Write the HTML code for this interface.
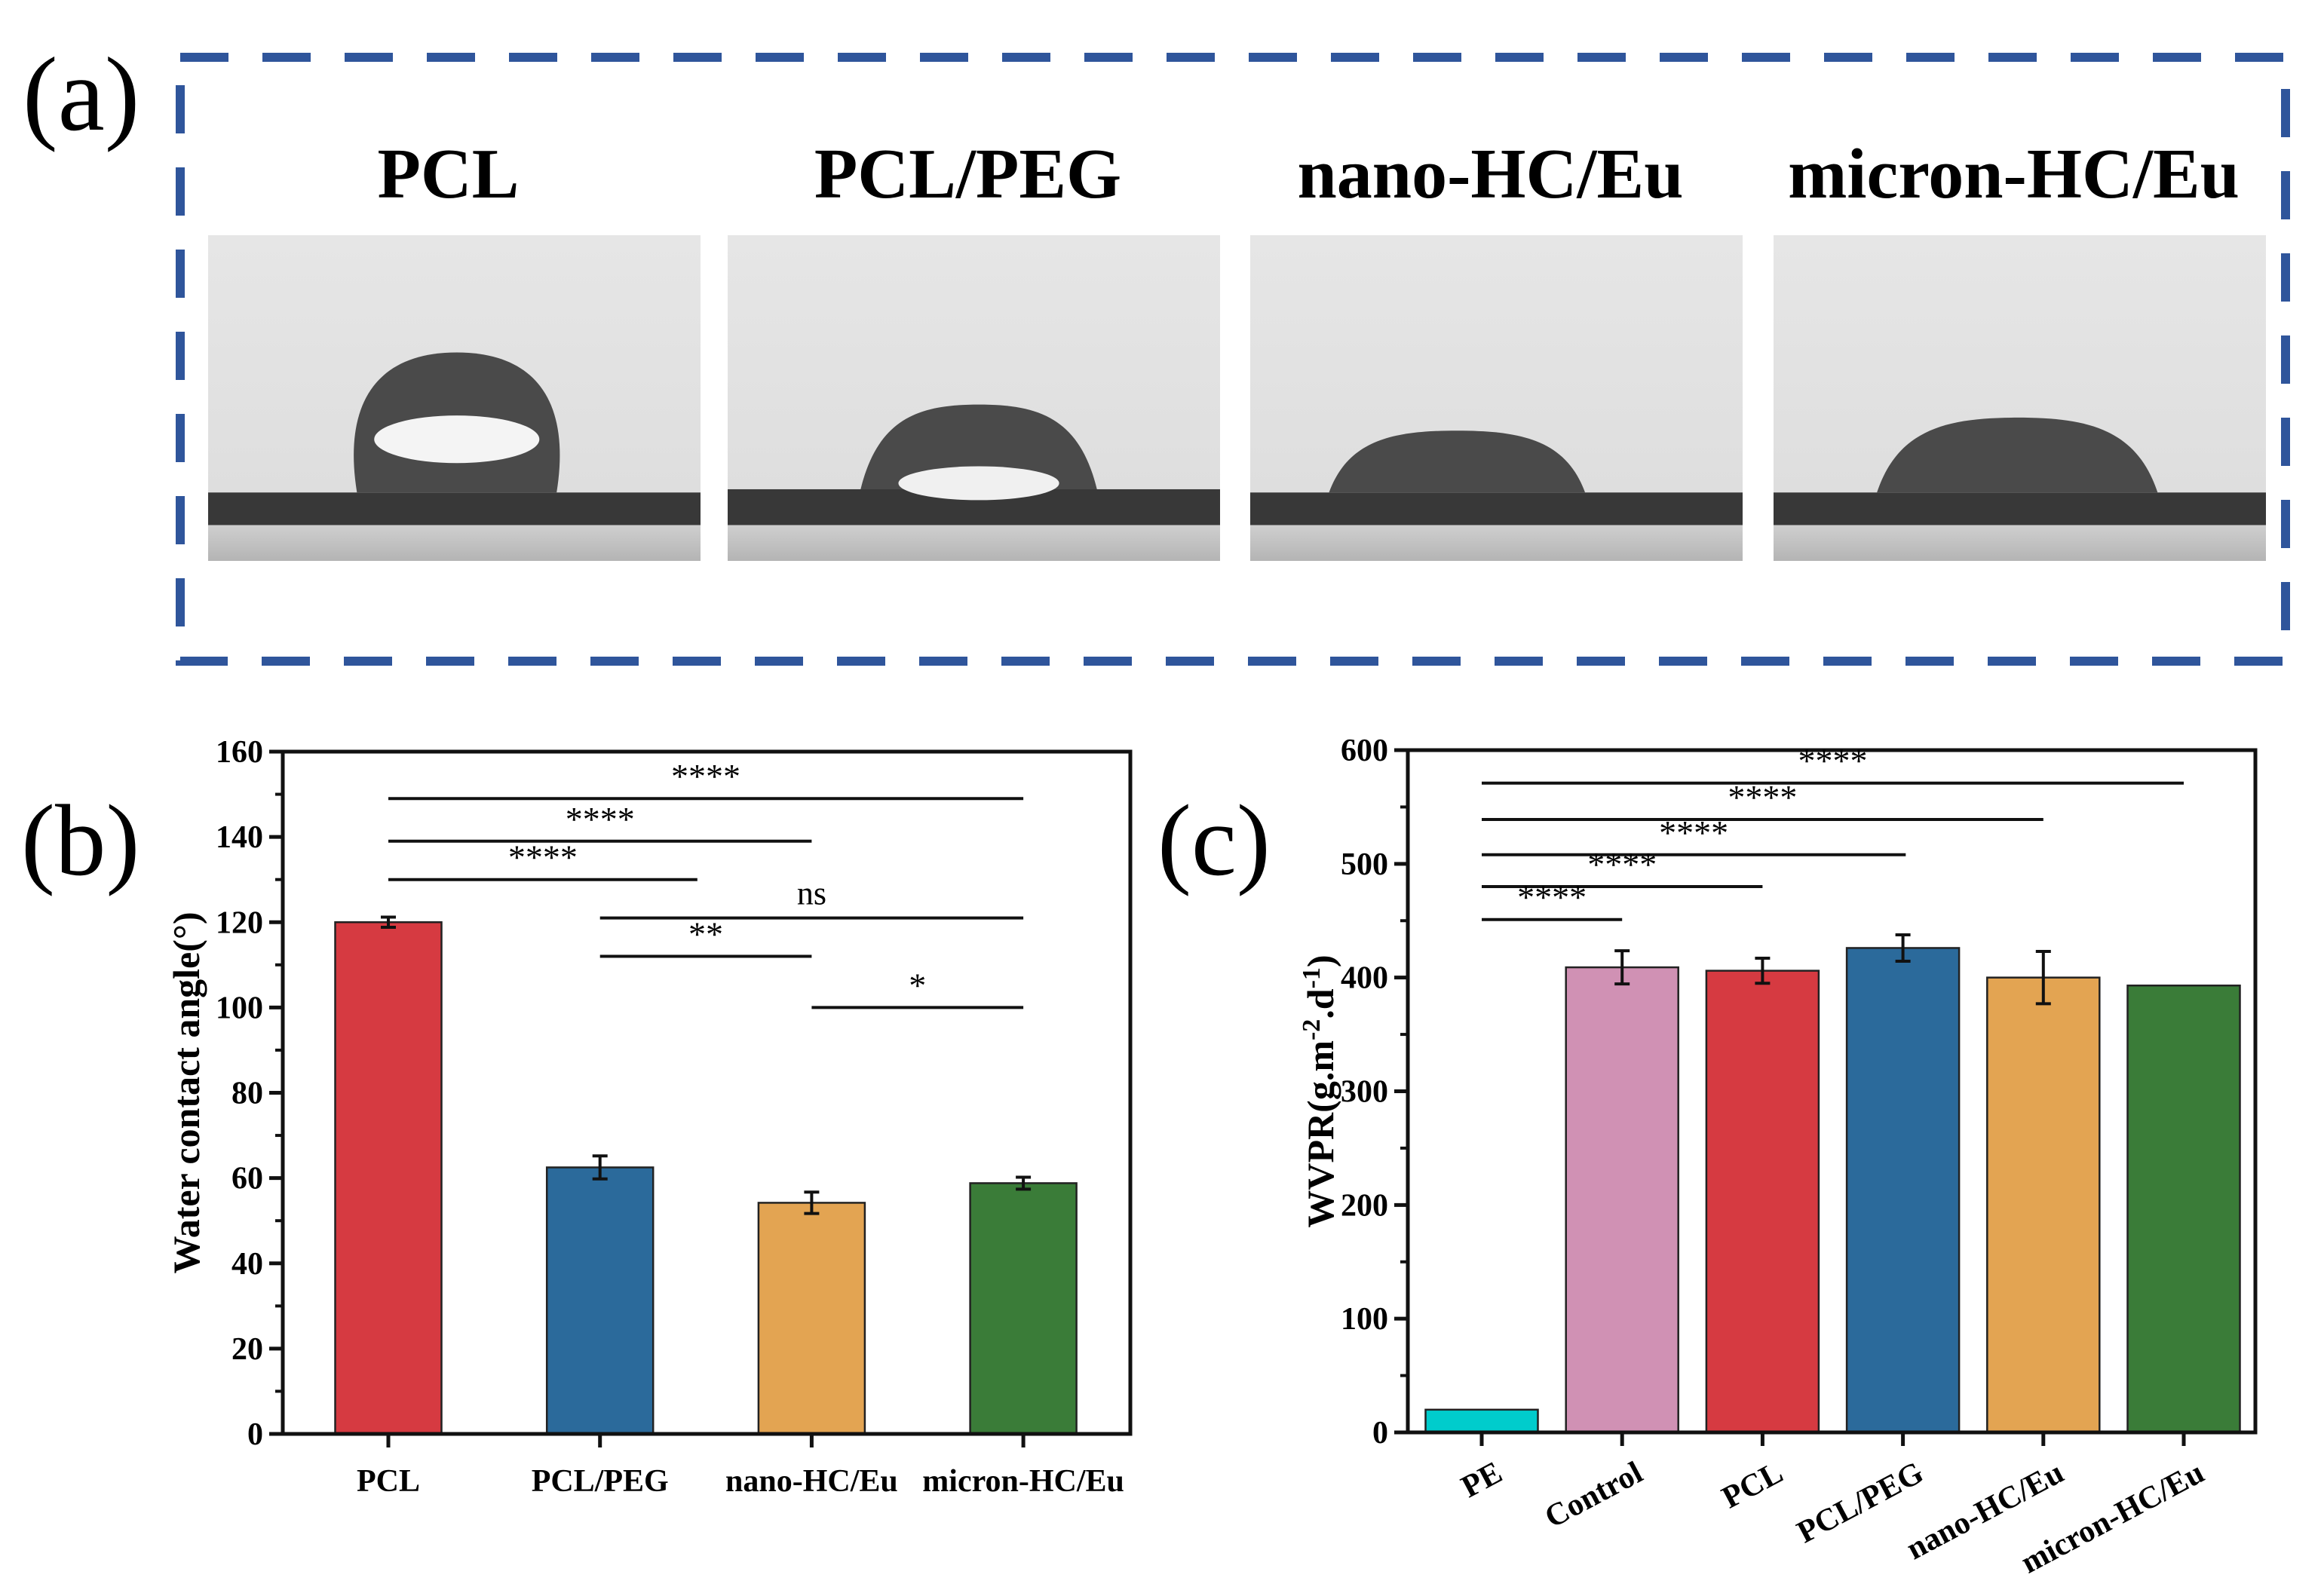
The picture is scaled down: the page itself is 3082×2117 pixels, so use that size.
<!DOCTYPE html>
<html><head><meta charset="utf-8"><style>
html,body{margin:0;padding:0;background:#fff;}
svg{display:block;font-family:"Liberation Serif",serif;}
</style></head><body>
<svg id="fig" xmlns="http://www.w3.org/2000/svg" width="3082" height="2117" viewBox="0 0 3082 2117">
<defs>
<linearGradient id="bg" x1="0" y1="0" x2="0" y2="1"><stop offset="0" stop-color="#e6e6e6"/><stop offset="1" stop-color="#dcdcdc"/></linearGradient>
<linearGradient id="base" x1="0" y1="0" x2="0" y2="1"><stop offset="0" stop-color="#cfcfcf"/><stop offset="1" stop-color="#b4b4b4"/></linearGradient>
</defs>
<g id="panelA">
<text x="30" y="172" font-size="140">(a)</text>
<rect x="239" y="76" width="2792" height="801" fill="none" stroke="#2f559b" stroke-width="12" stroke-dasharray="64 45"/>
</g>
<g id="panelB">
<text x="28" y="1160" font-size="135">(b)</text>
</g>
<g id="panelC">
<text x="1535" y="1160" font-size="135">(c)</text>
</g>
</svg>
<script>
// ---------- data ----------
const photoTitles = ["PCL","PCL/PEG","nano-HC/Eu","micron-HC/Eu"];
const bCategories = ["PCL","PCL/PEG","nano-HC/Eu","micron-HC/Eu"];
const bValues = [120, 62.5, 54.2, 58.8];
const bErrors = [1.2, 2.7, 2.5, 1.4];
const bTicks = [0,20,40,60,80,100,120,140,160];
const bSigFrom = [0,0,0,1,1,2];
const bSigTo = [3,2,1.46,3,2,3];
const bSigLevel = [149,139,130,121,112,100];
const bSigText = ["****","****","****","ns","**","*"];
const cCategories = ["PE","Control","PCL","PCL/PEG","nano-HC/Eu","micron-HC/Eu"];
const cValues = [20, 409, 406, 426, 400, 393];
const cErrors = [0, 14.6, 11, 11.6, 23, 0.5];
const cTicks = [0,100,200,300,400,500,600];
const cSigFrom = [0,0,0,0,0];
const cSigTo = [5,4,3.02,2.0,1.0];
const cSigLevel = [571,539,508,480,451];
const cSigText = ["****","****","****","****","****"];
const bColors = ["#d63a41","#2b6a9b","#e3a452","#3a7c38"];
const cColors = ["#00cccc","#d091b4","#d63a41","#2b6a9b","#e3a452","#3a7c38"];

const NS="http://www.w3.org/2000/svg";
function mk(parent,tag,attrs,text){const e=document.createElementNS(NS,tag);for(const k in attrs)e.setAttribute(k,attrs[k]);if(text!==undefined)e.textContent=text;parent.appendChild(e);return e;}

// ---------- panel a photos ----------
const pa=document.getElementById('panelA');
const photoX=[276,965,1658,2352], photoW=653, photoY=312, photoH=432;
const dropL=[0.29,0.27,0.16,0.21], dropR=[0.72,0.75,0.68,0.78], dropTop=[0.36,0.52,0.60,0.56], bandTop=[0.79,0.78,0.79,0.79];
photoTitles.forEach((t,i)=>{
  const tt=mk(pa,'text',{x:photoX[i]+photoW/2-8,y:262,'font-size':94,'font-weight':'bold','text-anchor':'middle'},t);
  
  
  const g=mk(pa,'g',{});
  
  
  const x=photoX[i],y=photoY,w=photoW,h=photoH;
  mk(g,'rect',{x:x,y:y,width:w,height:h,fill:'url(#bg)'});
  const bt=y+h*bandTop[i], bb=y+h*0.89;
  mk(g,'rect',{x:x,y:bb,width:w,height:y+h-bb,fill:'url(#base)'});
  mk(g,'rect',{x:x,y:bt,width:w,height:bb-bt,fill:'#383838'});
  const l=x+w*dropL[i], r=x+w*dropR[i], top=y+h*dropTop[i];
  const cx=(l+r)/2, rx=(r-l)/2, ry=bt-top;
  if(i===0){
    mk(g,'path',{d:`M ${l+8} ${bt} C ${l-10} ${bt-ry*0.6}, ${l+rx*0.2} ${top}, ${cx} ${top} C ${r-rx*0.2} ${top}, ${r+10} ${bt-ry*0.6}, ${r-8} ${bt} Z`,fill:'#4a4a4a'});
    mk(g,'ellipse',{cx:cx,cy:bt-ry*0.38,rx:rx*0.78,ry:ry*0.17,fill:'#f4f4f4'});
  } else {
    mk(g,'path',{d:`M ${l} ${bt} C ${l+rx*0.15} ${top+ry*0.15}, ${cx-rx*0.5} ${top}, ${cx} ${top} C ${cx+rx*0.5} ${top}, ${r-rx*0.15} ${top+ry*0.15}, ${r} ${bt} Z`,fill:'#4a4a4a'});
    if(i===1) mk(g,'ellipse',{cx:cx,cy:bt-8,rx:rx*0.68,ry:ry*0.2,fill:'#f0f0f0'});
  }
});

// ---------- generic bar chart ----------
function chart(gid,prefix,ax,cats,vals,errs,ticks,ymax,minorStep,colors,barW,sigFrom,sigTo,sigLvl,sigTxt,rotLabels,yTitle){
  const g=document.getElementById(gid);
  const L=ax.l,R=ax.r,T=ax.t,B=ax.b;
  const y=v=>B-(v/ymax)*(B-T);
  const x=i=>ax.x0+i*ax.dx;
  vals.forEach((v,i)=>{
    const r=mk(g,'rect',{x:x(i)-barW/2,y:y(v),width:barW,height:B-y(v),fill:colors[i],stroke:'#222','stroke-width':2.5});
    
    
    if(errs[i]>0.8){
      const eg=mk(g,'g',{stroke:'#111','stroke-width':4,fill:'none'});
      
      
      mk(eg,'line',{x1:x(i),x2:x(i),y1:y(v+errs[i]),y2:y(v-errs[i])});
      mk(eg,'line',{x1:x(i)-10,x2:x(i)+10,y1:y(v+errs[i]),y2:y(v+errs[i])});
      mk(eg,'line',{x1:x(i)-10,x2:x(i)+10,y1:y(v-errs[i]),y2:y(v-errs[i])});
    }
  });
  const fr=mk(g,'rect',{x:L,y:T,width:R-L,height:B-T,fill:'none',stroke:'#111','stroke-width':5});
  
  
  for(let v=0;v<=ymax+1e-6;v+=minorStep){
    mk(g,'line',{x1:L-10,x2:L,y1:y(v),y2:y(v),stroke:'#111','stroke-width':4});
  }
  ticks.forEach(v=>{
    mk(g,'line',{x1:L-18,x2:L,y1:y(v),y2:y(v),stroke:'#111','stroke-width':5});
    const t=mk(g,'text',{x:L-26,y:y(v)+14,'font-size':42,'font-weight':'bold','text-anchor':'end'},String(v));
    
    
  });
  cats.forEach((c,i)=>{
    mk(g,'line',{x1:x(i),x2:x(i),y1:B,y2:B+18,stroke:'#111','stroke-width':5});
    let t;
    if(rotLabels){
      t=mk(g,'text',{x:x(i)+30,y:B+62,'font-size':42,'font-weight':'bold','text-anchor':'end',transform:`rotate(-28 ${x(i)+30} ${B+62})`},c);
    } else {
      t=mk(g,'text',{x:x(i),y:B+76,'font-size':42,'font-weight':'bold','text-anchor':'middle'},c);
    }
    
    
  });
  sigLvl.forEach((lv,k)=>{
    const sg=mk(g,'g',{});
    
    
    const x1=x(sigFrom[k]),x2=x(sigTo[k]);
    mk(sg,'line',{x1:x1,x2:x2,y1:y(lv),y2:y(lv),stroke:'#111','stroke-width':4});
    const isNs=sigTxt[k]==='ns';
    mk(sg,'text',{x:(x1+x2)/2,y:y(lv)-(isNs?18:14),'font-size':isNs?44:46,'text-anchor':'middle'},sigTxt[k]);
  });
  const yt=mk(g,'text',{x:ax.titleX,y:(T+B)/2,'font-size':50,'font-weight':'bold','text-anchor':'middle',transform:`rotate(-90 ${ax.titleX} ${(T+B)/2})`});
  
  
  yTitle(yt);
}

chart('panelB','b',{l:375,r:1499,t:997,b:1902,x0:515,dx:280.7,titleX:264},bCategories,bValues,bErrors,bTicks,160,10,bColors,141,bSigFrom,bSigTo,bSigLevel,bSigText,false,
  t=>{t.textContent='Water contact angle(°)';});
chart('panelC','c',{l:1867,r:2991,t:995,b:1900,x0:1965,dx:186.2,titleX:1768},cCategories,cValues,cErrors,cTicks,600,50,cColors,149,cSigFrom,cSigTo,cSigLevel,cSigText,true,
  t=>{
    const p=(s,sup)=>{const e=document.createElementNS(NS,'tspan');e.textContent=s;if(sup){e.setAttribute('dy',sup);e.setAttribute('font-size','34');}t.appendChild(e);return e;};
    p('WVPR(g.m'); p('-2','-18'); const a=p('.d'); a.setAttribute('dy','18'); p('-1','-18'); const b=p(')'); b.setAttribute('dy','18');
  });
</script>
</body></html>
